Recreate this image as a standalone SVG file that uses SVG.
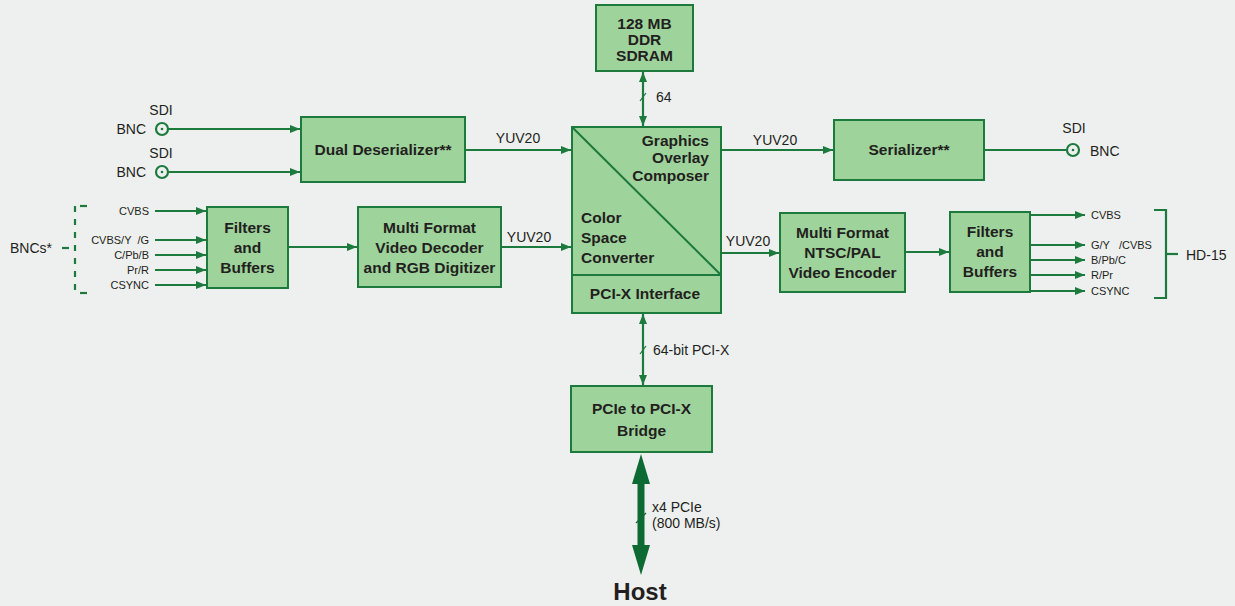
<svg xmlns="http://www.w3.org/2000/svg" width="1235" height="606" viewBox="0 0 1235 606">
<defs>
<style>
.bx{fill:#9ed39b;stroke:#1c7a3d;stroke-width:2}
.ln{stroke:#1c7a3d;stroke-width:2.2;fill:none}
.t{font-family:"Liberation Sans",Arial,sans-serif;font-weight:bold;font-size:15.5px;fill:#231f20;text-anchor:middle}
.e{text-anchor:end}
.st{text-anchor:start}
.l{font-family:"Liberation Sans",Arial,sans-serif;font-size:14px;fill:#231f20}
.s{font-family:"Liberation Sans",Arial,sans-serif;font-size:11px;fill:#231f20;white-space:pre}
</style>
<marker id="ar" viewBox="0 0 10 8" refX="10" refY="4" markerWidth="10" markerHeight="8" markerUnits="userSpaceOnUse" orient="auto-start-reverse">
<path d="M0,0 L10,4 L0,8 Z" fill="#1c7a3d"/>
</marker>
</defs>
<rect width="1235" height="606" fill="#eef0ef"/>

<g id="connectors">
<circle cx="162" cy="129" r="6" class="ln"/><circle cx="162" cy="129" r="1.3" fill="#1c7a3d"/>
<line x1="168" y1="129" x2="300" y2="129" class="ln" marker-end="url(#ar)"/>
<circle cx="162" cy="172" r="6" class="ln"/><circle cx="162" cy="172" r="1.3" fill="#1c7a3d"/>
<line x1="168" y1="172" x2="300" y2="172" class="ln" marker-end="url(#ar)"/>
<line x1="465" y1="150" x2="571" y2="150" class="ln" marker-end="url(#ar)"/>
<line x1="155" y1="211" x2="206" y2="211" class="ln" marker-end="url(#ar)"/>
<line x1="155" y1="240" x2="206" y2="240" class="ln" marker-end="url(#ar)"/>
<line x1="155" y1="255" x2="206" y2="255" class="ln" marker-end="url(#ar)"/>
<line x1="155" y1="270" x2="206" y2="270" class="ln" marker-end="url(#ar)"/>
<line x1="155" y1="285" x2="206" y2="285" class="ln" marker-end="url(#ar)"/>
<line x1="75" y1="206" x2="75" y2="294" class="ln" stroke-dasharray="6,7"/>
<line x1="80" y1="206" x2="87" y2="206" class="ln"/>
<line x1="80" y1="293" x2="87" y2="293" class="ln"/>
<line x1="62" y1="248" x2="69" y2="248" class="ln"/>
<line x1="288" y1="247" x2="357" y2="247" class="ln" marker-end="url(#ar)"/>
<line x1="501" y1="247" x2="571" y2="247" class="ln" marker-end="url(#ar)"/>
<line x1="721" y1="150" x2="833" y2="150" class="ln" marker-end="url(#ar)"/>
<line x1="984" y1="150" x2="1066" y2="150" class="ln"/>
<circle cx="1073" cy="150" r="6" class="ln"/><circle cx="1073" cy="150" r="1.3" fill="#1c7a3d"/>
<line x1="721" y1="253" x2="779" y2="253" class="ln" marker-end="url(#ar)"/>
<line x1="905" y1="252" x2="949" y2="252" class="ln" marker-end="url(#ar)"/>
<line x1="1030" y1="215" x2="1085" y2="215" class="ln" marker-end="url(#ar)"/>
<line x1="1030" y1="245" x2="1085" y2="245" class="ln" marker-end="url(#ar)"/>
<line x1="1030" y1="260" x2="1085" y2="260" class="ln" marker-end="url(#ar)"/>
<line x1="1030" y1="275" x2="1085" y2="275" class="ln" marker-end="url(#ar)"/>
<line x1="1030" y1="291" x2="1085" y2="291" class="ln" marker-end="url(#ar)"/>
<polyline points="1154,210 1166,210 1166,298 1154,298" class="ln"/>
<line x1="1166" y1="254" x2="1178" y2="254" class="ln"/>
<line x1="643" y1="72" x2="643" y2="126" class="ln" marker-start="url(#ar)" marker-end="url(#ar)"/>
<line x1="640" y1="101" x2="646" y2="93" stroke="#1c7a3d" stroke-width="1.2"/>
<line x1="643" y1="314" x2="643" y2="385" class="ln" marker-start="url(#ar)" marker-end="url(#ar)"/>
<line x1="640" y1="354" x2="646" y2="346" stroke="#1c7a3d" stroke-width="1.2"/>
<line x1="641" y1="480" x2="641" y2="545" stroke="#0d6a33" stroke-width="7"/>
<path d="M632,545 L641,575 L650,545 Z" fill="#0d6a33"/>
<path d="M632,484 L641,454 L650,484 Z" fill="#0d6a33"/>
<line x1="636" y1="523" x2="646" y2="513" stroke="#0d6a33" stroke-width="1.2"/>
</g>

<g id="sdram"><rect x="596" y="5" width="97" height="66" class="bx"/>
<text class="t" x="644.5" y="29">128 MB</text><text class="t" x="644.5" y="45">DDR</text><text class="t" x="644.5" y="61">SDRAM</text></g>

<g id="deserializer"><rect x="301" y="117" width="164" height="65" class="bx"/>
<text class="t" x="383" y="155">Dual Deserializer**</text></g>

<g id="central"><rect x="572" y="127" width="149" height="186" class="bx"/>
<line x1="572" y1="127" x2="721" y2="275" stroke="#1c7a3d" stroke-width="2"/>
<line x1="572" y1="275" x2="721" y2="275" stroke="#1c7a3d" stroke-width="2"/>
<text class="t e" x="709" y="146">Graphics</text>
<text class="t e" x="709" y="163">Overlay</text>
<text class="t e" x="709" y="181">Composer</text>
<text class="t st" x="581" y="223">Color</text>
<text class="t st" x="581" y="243">Space</text>
<text class="t st" x="581" y="263">Converter</text>
<text class="t" x="645" y="299">PCI-X Interface</text></g>

<g id="serializer"><rect x="834" y="120" width="150" height="60" class="bx"/>
<text class="t" x="909" y="155">Serializer**</text></g>

<g id="filters-in"><rect x="207" y="207" width="81" height="81" class="bx"/>
<text class="t" x="247.5" y="233">Filters</text><text class="t" x="247.5" y="253">and</text><text class="t" x="247.5" y="273">Buffers</text></g>

<g id="decoder"><rect x="358" y="207" width="143" height="80" class="bx"/>
<text class="t" x="429.5" y="233">Multi Format</text><text class="t" x="429.5" y="253">Video Decoder</text><text class="t" x="429.5" y="273">and RGB Digitizer</text></g>

<g id="encoder"><rect x="780" y="213" width="125" height="79" class="bx"/>
<text class="t" x="842.5" y="238">Multi Format</text><text class="t" x="842.5" y="258">NTSC/PAL</text><text class="t" x="842.5" y="278">Video Encoder</text></g>

<g id="filters-out"><rect x="950" y="212" width="80" height="80" class="bx"/>
<text class="t" x="990" y="237">Filters</text><text class="t" x="990" y="257">and</text><text class="t" x="990" y="277">Buffers</text></g>

<g id="bridge"><rect x="571" y="386" width="141" height="66" class="bx"/>
<text class="t" x="641.5" y="414">PCIe to PCI-X</text><text class="t" x="641.5" y="436">Bridge</text></g>

<g id="labels">
<text class="l" x="161" y="115" text-anchor="middle">SDI</text>
<text class="l" x="146" y="134" text-anchor="end">BNC</text>
<text class="l" x="161" y="158" text-anchor="middle">SDI</text>
<text class="l" x="146" y="177" text-anchor="end">BNC</text>
<text class="l" x="518" y="143" text-anchor="middle">YUV20</text>
<text class="l" x="529" y="242" text-anchor="middle">YUV20</text>
<text class="l" x="775" y="145" text-anchor="middle">YUV20</text>
<text class="l" x="748" y="246" text-anchor="middle">YUV20</text>
<text class="l" x="1074" y="133" text-anchor="middle">SDI</text>
<text class="l" x="1090" y="156">BNC</text>
<text class="l" x="10" y="253">BNCs*</text>
<text class="s" x="149" y="215" text-anchor="end">CVBS</text>
<text class="s" x="149" y="244" text-anchor="end">CVBS/Y  /G</text>
<text class="s" x="149" y="259" text-anchor="end">C/Pb/B</text>
<text class="s" x="149" y="274" text-anchor="end">Pr/R</text>
<text class="s" x="149" y="289" text-anchor="end">CSYNC</text>
<text class="s" x="1091" y="219">CVBS</text>
<text class="s" x="1091" y="249">G/Y   /CVBS</text>
<text class="s" x="1091" y="264">B/Pb/C</text>
<text class="s" x="1091" y="279">R/Pr</text>
<text class="s" x="1091" y="295">CSYNC</text>
<text class="l" x="1186" y="260">HD-15</text>
<text class="l" x="656" y="102">64</text>
<text class="l" x="653" y="355">64-bit PCI-X</text>
<text class="l" x="652" y="512">x4 PCIe</text>
<text class="l" x="652" y="528">(800 MB/s)</text>
<text class="t" x="640" y="600" style="font-size:24px">Host</text>
</g>
</svg>
